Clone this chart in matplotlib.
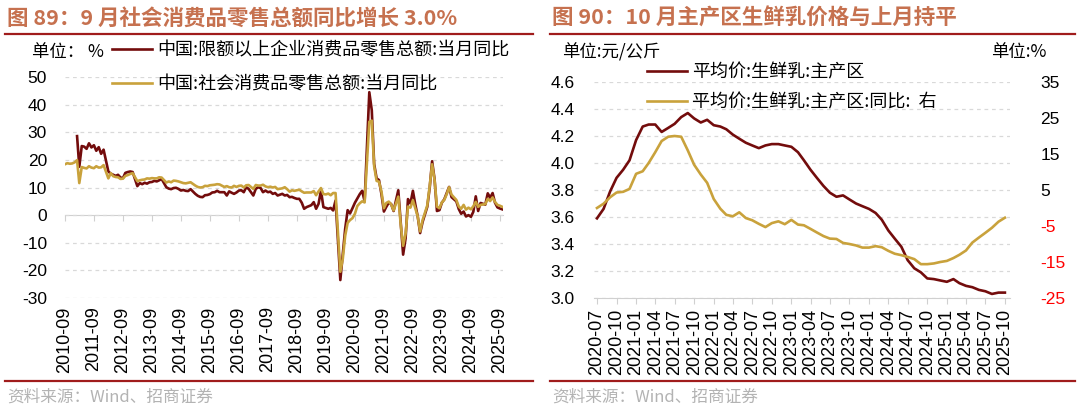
import numpy as np
import pandas as pd
import matplotlib
matplotlib.use("Agg")
import matplotlib.pyplot as plt
import matplotlib.dates as mdates
from matplotlib.lines import Line2D

plt.rcParams['font.family'] = ['Liberation Sans', 'Noto Sans CJK SC']
plt.rcParams['axes.unicode_minus'] = False

nan = np.nan

# ---- left chart: retail sales yoy, monthly (month-end dates) 2010-08 .. 2025-09 ----
retail_months = pd.date_range("2010-08-31", "2025-09-30", freq="ME")

retail_above_quota = [
    nan, nan, nan, nan, nan,
    28.6, 17.5, 25.0, 24.8, 24.0, 26.0, 24.5, 25.3, 23.3, 24.6, 22.2, 23.7,
    nan, 15.8, 15.0, 14.6, 14.2, 14.6, 13.6, 13.4, 15.3, 15.6, 15.8, 15.6,
    nan, 10.5, 11.6, 11.2, 11.7, 11.4, 11.9, 12.0, 12.4, 12.2, 12.6, 13.1,
    nan, 10.1, 9.6, 9.4, 9.8, 9.9, 9.5, 8.9, 9.1, 8.8, 8.7, 9.4,
    nan, 7.7, 7.0, 6.6, 6.5, 7.2, 7.3, 7.6, 8.2, 8.3, 8.8, 8.3,
    nan, 8.3, 7.1, 8.6, 8.1, 7.7, 8.2, 8.9, 9.0, 8.3, 10.1, 9.5,
    nan, 7.1, 9.5, 10.1, 9.8, 8.3, 8.9, 8.3, 8.5, 7.7, 8.0, 7.1,
    nan, 7.7, 7.1, 7.3, 6.5, 6.6, 6.2, 5.9, 5.9, 4.5, 2.3, 2.9,
    nan, 3.6, 4.7, 2.3, 4.1, 8.9, 2.9, 2.6, 2.3, 2.6, 1.7, 5.3,
    nan, -23.5, -14.0, -5.0, 1.8, 0.6, 2.5, 4.5, 6.0, 7.6, 8.8, 5.0,
    nan, 44.5, 38.0, 18.5, 13.3, 12.7, 7.6, 1.3, 3.0, 4.5, 4.0, 1.5,
    nan, 9.0, -3.0, -14.3, -8.4, 5.8, 4.2, 8.8, 3.9, -0.5, -6.5, -2.5,
    nan, 3.0, 10.0, 19.5, 13.0, 1.5, 1.8, 4.5, 5.7, 8.0, 10.2, 6.5,
    nan, 5.0, 2.2, 0.5, 1.3, -0.5, 0.0, -0.6, 1.2, 6.8, 1.5, 4.4,
    nan, 3.8, 7.9, 6.3, 8.0, 4.5, 2.8, 2.4, 2.1,
]

retail_total = [
    18.4, 18.8, 18.6, 18.7, 19.1,
    19.9, 11.6, 17.4, 17.1, 16.9, 17.7, 17.2, 17.0, 17.7, 17.2, 17.3, 18.1,
    nan, 13.3, 15.2, 14.1, 13.8, 13.7, 13.1, 13.2, 14.2, 14.5, 14.9, 15.2,
    nan, 12.3, 12.6, 12.8, 12.9, 13.3, 13.2, 13.4, 13.3, 13.3, 13.7, 13.6,
    nan, 11.8, 12.2, 11.9, 12.5, 12.4, 12.2, 11.9, 11.6, 11.5, 11.7, 11.9,
    nan, 10.7, 10.2, 10.0, 10.1, 10.6, 10.5, 10.8, 10.9, 11.0, 11.2, 11.1,
    nan, 10.2, 10.5, 10.1, 10.0, 10.6, 10.2, 10.6, 10.7, 10.0, 10.8, 10.9,
    nan, 9.5, 10.9, 10.7, 10.7, 11.0, 10.4, 10.1, 10.3, 10.0, 10.2, 9.4,
    nan, 9.7, 10.1, 9.4, 8.5, 9.0, 8.8, 9.0, 9.2, 8.6, 8.1, 8.2,
    nan, 8.2, 8.7, 7.2, 8.6, 9.8, 7.6, 7.5, 7.8, 7.2, 8.0, 8.0,
    nan, -20.5, -15.8, -7.5, -2.8, -1.8, -1.1, 0.5, 3.3, 4.3, 5.0, 4.6,
    nan, 33.8, 34.2, 17.7, 12.4, 12.1, 8.5, 2.5, 4.4, 4.9, 3.9, 1.7,
    nan, 6.7, -3.5, -11.1, -6.7, 3.1, 2.7, 5.4, 2.5, -0.5, -5.9, -1.8,
    nan, 3.5, 10.6, 18.4, 12.7, 3.1, 2.5, 4.6, 5.5, 7.6, 10.1, 7.4,
    nan, 5.5, 3.1, 2.3, 3.7, 2.0, 2.7, 2.1, 3.2, 4.8, 3.0, 3.7,
    nan, 4.0, 5.9, 5.1, 6.4, 4.8, 3.7, 3.4, 3.0,
]

retail_ticks = pd.date_range("2010-09-01", "2025-09-01", freq="12MS")
retail_yticks = [-30, -20, -10, 0, 10, 20, 30, 40, 50]

# ---- right chart: raw milk price, 2020-07 .. 2025-10 ----
milk_months = pd.date_range("2020-07-01", "2025-10-01", freq="MS")
milk_price = [
    3.59, 3.66, 3.79, 3.89, 3.95, 4.02, 4.17, 4.27, 4.285, 4.285, 4.23, 4.26,
    4.29, 4.34, 4.37, 4.33, 4.30, 4.32, 4.28, 4.27, 4.25, 4.21, 4.18, 4.15,
    4.13, 4.11, 4.13, 4.14, 4.14, 4.13, 4.12, 4.08, 4.02, 3.95, 3.89, 3.83,
    3.78, 3.75, 3.76, 3.73, 3.70, 3.68, 3.66, 3.63, 3.58, 3.50, 3.44, 3.38,
    3.28, 3.22, 3.19, 3.145, 3.14, 3.13, 3.12, 3.14, 3.11, 3.09, 3.08, 3.06,
    3.05, 3.03, 3.04, 3.04,
]
milk_yoy = [
    0.0, 1.2, 3.0, 4.3, 4.5, 5.3, 9.5, 10.2, 12.5, 15.5, 18.6, 19.8,
    20.0, 19.8, 16.0, 12.0, 9.3, 7.0, 2.5, -0.2, -1.9, -2.3, -1.2, -2.8,
    -3.4, -4.4, -5.3, -4.2, -3.7, -4.5, -3.3, -4.6, -4.8, -5.8, -6.8, -7.8,
    -8.5, -8.6, -9.7, -10.0, -10.4, -11.0, -11.0, -10.6, -10.9, -11.9, -12.7, -13.1,
    -13.6, -14.2, -15.6, -15.6, -15.4, -15.0, -14.7, -13.9, -13.0, -11.8, -9.6, -8.2,
    -6.9, -5.5, -3.8, -2.7,
]
milk_ticks = pd.date_range("2020-07-01", "2025-10-01", freq="3MS")
price_yticks = [3.0, 3.2, 3.4, 3.6, 3.8, 4.0, 4.2, 4.4, 4.6]
yoy_yticks = [-25, -15, -5, 5, 15, 25, 35]

# ---- styles ----
W, H = 1080, 413
DARK_RED = '#730C0C'
GOLD = '#C9A23C'
TITLE_C = '#C6714F'
RULE_C = '#A01C1C'
GRID_C = '#D9D9D9'
AXIS_C = '#D0D0D0'
SRC_C = '#B3B3B3'
CJK = ['Noto Sans CJK SC', 'Liberation Sans']


def fx(px):
    return px / W


def fy(py):
    return 1 - py / H


fig = plt.figure(figsize=(W / 100, H / 100), dpi=100)


def decorate(x0, x1, title):
    fig.text(fx(x0 + 2), fy(18), title, fontsize=15.5, fontweight='bold',
             color=TITLE_C, family=CJK, va='center', ha='left')
    fig.add_artist(Line2D([fx(x0), fx(x1)], [fy(34), fy(34)], color=RULE_C, lw=1.6))
    fig.add_artist(Line2D([fx(x0), fx(x1)], [fy(381), fy(381)], color=RULE_C, lw=1.6))
    fig.text(fx(x0 + 2), fy(397), "资料来源：Wind、招商证券", fontsize=12,
             color=SRC_C, family=CJK, va='center', ha='left')


# ================= left chart =================
decorate(5, 533, "图 89：9 月社会消费品零售总额同比增长 3.0%")

ax1 = fig.add_axes([fx(65), fy(298), fx(503) - fx(65), fy(77) - fy(298)])
ra = np.array(retail_above_quota, dtype=float)
rt = np.array(retail_total, dtype=float)
m1 = ~np.isnan(ra)
m2 = ~np.isnan(rt)
l_a, = ax1.plot(retail_months[m1], ra[m1], color=DARK_RED, lw=1.9, zorder=3)
l_t, = ax1.plot(retail_months[m2], rt[m2], color=GOLD, lw=1.9, zorder=4)

ax1.set_ylim(-30, 50)
ax1.set_xlim(retail_ticks[0], retail_ticks[-1] + pd.Timedelta(days=38))
ax1.set_yticks(retail_yticks)
ax1.yaxis.grid(True, linestyle=(0, (3, 3)), color=GRID_C, lw=0.9)
ax1.set_axisbelow(True)
for s in ax1.spines.values():
    s.set_visible(False)
ax1.tick_params(axis='y', length=0, pad=13, labelsize=12.5)
ax1.set_xticks(retail_ticks)
ax1.xaxis.set_major_formatter(mdates.DateFormatter('%Y-%m'))
ax1.tick_params(axis='x', length=0, pad=6, labelsize=13, labelrotation=90)

# zero axis with year ticks
zero_pos = (0 - (-30)) / (50 - (-30))
sec1 = ax1.secondary_xaxis(zero_pos)
sec1.set_xticks(retail_ticks)
sec1.tick_params(axis='x', direction='out', length=4, color=AXIS_C, labelbottom=False, labeltop=False)
sec1.spines['bottom'].set_color(AXIS_C)

fig.text(fx(32), fy(52), "单位： %", fontsize=12.5, family=CJK, va='center', ha='left')
ax1.legend([l_a, l_t], ["中国:限额以上企业消费品零售总额:当月同比", "中国:社会消费品零售总额:当月同比"],
           loc='upper left', bbox_to_anchor=(fx(112), fy(41)), bbox_transform=fig.transFigure,
           frameon=False, prop={'family': CJK, 'size': 13}, borderpad=0, borderaxespad=0,
           handlelength=2.2, handletextpad=0.3, labelspacing=0.9)

# ================= right chart =================
decorate(550, 1075, "图 90：10 月主产区生鲜乳价格与上月持平")

ax2 = fig.add_axes([fx(594), fy(298), fx(1010) - fx(594), fy(82) - fy(298)])
l_p, = ax2.plot(milk_months, milk_price, color=DARK_RED, lw=1.9, zorder=3)
ax2.set_ylim(3.0, 4.6)
ax2.set_xlim(milk_months[0] - pd.Timedelta(days=14), milk_months[-1] + pd.Timedelta(days=24))
ax2.set_yticks(price_yticks)
ax2.yaxis.set_major_formatter(matplotlib.ticker.FormatStrFormatter('%.1f'))
ax2.yaxis.grid(True, linestyle=(0, (3, 3)), color=GRID_C, lw=0.9)
ax2.set_axisbelow(True)
for k in ('top', 'left', 'right'):
    ax2.spines[k].set_visible(False)
ax2.spines['bottom'].set_color(AXIS_C)
ax2.tick_params(axis='y', length=0, pad=14, labelsize=12.5)
ax2.set_xticks(milk_ticks)
ax2.xaxis.set_major_formatter(mdates.DateFormatter('%Y-%m'))
ax2.tick_params(axis='x', direction='out', length=4, color=AXIS_C, pad=4,
                labelsize=13, labelrotation=90)

ax3 = ax2.twinx()
l_y, = ax3.plot(milk_months, milk_yoy, color=GOLD, lw=1.9, zorder=4)
ax3.set_ylim(-25, 35)
ax3.set_yticks(yoy_yticks)
for s in ax3.spines.values():
    s.set_visible(False)
ax3.tick_params(axis='y', length=0, pad=22, labelsize=12.5)
for t, v in zip(ax3.get_yticklabels(), yoy_yticks):
    t.set_color('#FF0000' if v < 0 else 'black')

fig.text(fx(562), fy(52), "单位:元/公斤", fontsize=12.5, family=CJK, va='center', ha='left')
fig.text(fx(1046), fy(52), "单位:%", fontsize=12.5, family=CJK, va='center', ha='right')
ax3.legend([l_p, l_y], ["平均价:生鲜乳:主产区", "平均价:生鲜乳:主产区:同比:  右"],
           loc='upper left', bbox_to_anchor=(fx(647), fy(63)), bbox_transform=fig.transFigure,
           frameon=False, prop={'family': CJK, 'size': 13}, borderpad=0, borderaxespad=0,
           handlelength=2.2, handletextpad=0.3, labelspacing=0.68)

fig.savefig("out.png", dpi=100)
